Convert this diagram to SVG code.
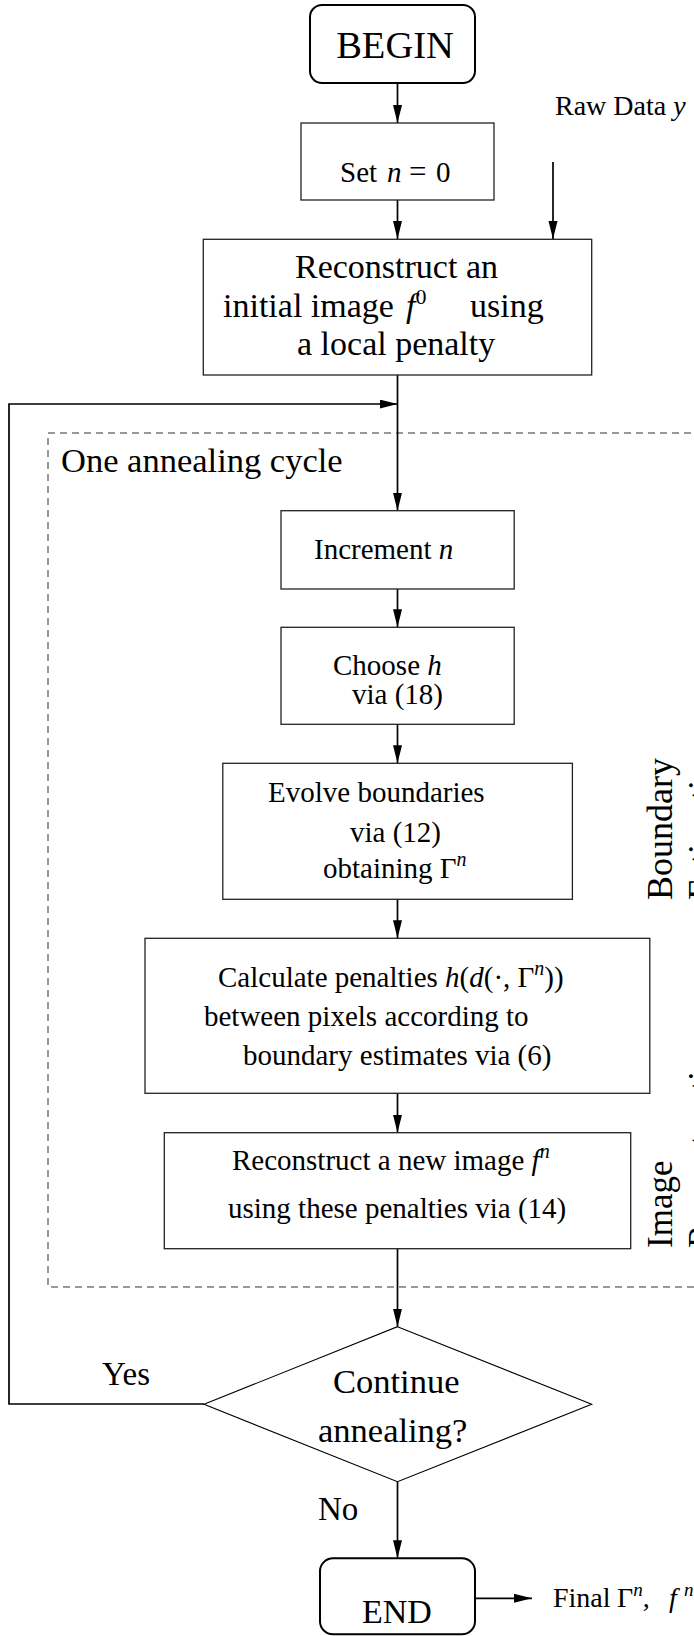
<svg xmlns="http://www.w3.org/2000/svg" width="694" height="1636" viewBox="0 0 694 1636">
<defs>
<marker id="ah" markerUnits="userSpaceOnUse" markerWidth="18" markerHeight="10" refX="18" refY="4.5" orient="auto"><path d="M0,0 L18,4.5 L0,9 z" fill="#000"/></marker>
<style>
.box{fill:#fff;stroke:#222;stroke-width:1.3}
.rbox{fill:#fff;stroke:#000;stroke-width:2}
.c{fill:none;stroke:#000;stroke-width:1.7}
.t{font-family:"Liberation Serif","Times New Roman",serif;fill:#000}
.i{font-style:italic}
.m{font-size:29px}
</style>
</defs>
<rect width="694" height="1636" fill="#fff"/>
<rect x="48" y="433" width="700" height="854" fill="none" stroke="#333" stroke-width="1" stroke-dasharray="7 5"/>
<text class="t" x="61" y="472" font-size="34.5">One annealing cycle</text>
<g id="connectors">
<path class="c" d="M397.5,83 V123" marker-end="url(#ah)"/>
<path class="c" d="M397.5,200 V239" marker-end="url(#ah)"/>
<path class="c" d="M553,162 V239" marker-end="url(#ah)"/>
<path class="c" d="M397.5,375 V510.7" marker-end="url(#ah)"/>
<path class="c" d="M204,1404 H9 V404 H397.5" stroke-width="2" marker-end="url(#ah)"/>
<path class="c" d="M397.5,589 V627.3" marker-end="url(#ah)"/>
<path class="c" d="M397.5,724.3 V763.3" marker-end="url(#ah)"/>
<path class="c" d="M397.5,899.3 V938.3" marker-end="url(#ah)"/>
<path class="c" d="M397.5,1093.3 V1132.7" marker-end="url(#ah)"/>
<path class="c" d="M397.5,1248.7 V1326.7" marker-end="url(#ah)"/>
<path class="c" d="M397.5,1481.7 V1558.3" marker-end="url(#ah)"/>
<path class="c" d="M475,1598.3 H532" marker-end="url(#ah)"/>
</g>
<g id="begin">
<rect class="rbox" x="310" y="5" width="165" height="78" rx="12"/>
<text class="t" x="395" y="58" font-size="38.5" text-anchor="middle">BEGIN</text>
</g>
<g id="rawdata">
<text class="t" x="555" y="115" font-size="28">Raw Data <tspan class="i">y</tspan></text>
</g>
<g id="setn">
<rect class="box" x="301" y="123" width="193" height="77"/>
<text class="t m" x="340" y="182">Set<tspan class="i" x="387">n</tspan><tspan x="409" font-size="31">=</tspan><tspan x="436">0</tspan></text>
</g>
<g id="init">
<rect class="box" x="203.3" y="239.3" width="388.4" height="135.7"/>
<text class="t" x="295" y="278" font-size="34">Reconstruct an</text>
<text class="t" x="223" y="317" font-size="34">initial image</text>
<text class="t" x="406" y="317" font-size="34"><tspan class="i">f</tspan><tspan font-size="22" dy="-13">0</tspan></text>
<text class="t" x="470" y="317" font-size="34">using</text>
<text class="t" x="297" y="355" font-size="34">a local penalty</text>
</g>
<g id="increment">
<rect class="box" x="281" y="510.7" width="233.2" height="78.3"/>
<text class="t m" x="314" y="559.3">Increment <tspan class="i">n</tspan></text>
</g>
<g id="choose">
<rect class="box" x="281" y="627.3" width="233.2" height="97"/>
<text class="t m" x="333" y="674.5">Choose <tspan class="i">h</tspan></text>
<text class="t m" x="352" y="704">via (18)</text>
</g>
<g id="evolve">
<rect class="box" x="222.8" y="763.3" width="349.6" height="136"/>
<text class="t m" x="268" y="801.7">Evolve boundaries</text>
<text class="t m" x="350" y="841.7">via (12)</text>
<text class="t m" x="323" y="877.7">obtaining Γ<tspan font-size="20" dy="-12" class="i">n</tspan></text>
</g>
<g id="calculate">
<rect class="box" x="145" y="938.3" width="504.8" height="155"/>
<text class="t m" x="218" y="986.7">Calculate penalties <tspan class="i">h</tspan>(<tspan class="i">d</tspan>(·, Γ<tspan font-size="20" dy="-12" class="i">n</tspan><tspan dy="12">))</tspan></text>
<text class="t m" x="204" y="1026">between pixels according to</text>
<text class="t m" x="243" y="1065">boundary estimates via (6)</text>
</g>
<g id="reconstruct">
<rect class="box" x="164.3" y="1132.7" width="466.4" height="116"/>
<text class="t m" x="232" y="1170">Reconstruct a new image <tspan class="i">f</tspan><tspan font-size="20" dy="-12" class="i">n</tspan></text>
<text class="t m" x="228" y="1218.3">using these penalties via (14)</text>
</g>
<g id="labels-side">
<text class="t" font-size="36" transform="translate(672,900) rotate(-90)">Boundary</text>
<text class="t" font-size="36" transform="translate(713,900) rotate(-90)">Estimation</text>
<text class="t" font-size="35" transform="translate(672,1248) rotate(-90)">Image</text>
<text class="t" font-size="35" transform="translate(713,1248) rotate(-90)">Reconstruction</text>
</g>
<g id="decision">
<polygon points="397.5,1326.7 591.7,1404.3 397.5,1481.7 204,1404.3" fill="#fff" stroke="#000" stroke-width="1.1"/>
<text class="t" x="333" y="1393.3" font-size="34.5">Continue</text>
<text class="t" x="318" y="1441.7" font-size="34.5">annealing?</text>
</g>
<g id="edge-labels">
<text class="t" x="102" y="1385" font-size="33">Yes</text>
<text class="t" x="318" y="1520" font-size="33">No</text>
</g>
<g id="end">
<rect class="rbox" x="320" y="1558.3" width="155" height="76" rx="13"/>
<text class="t" x="397" y="1623" font-size="34" text-anchor="middle">END</text>
</g>
<g id="final">
<text class="t" x="553" y="1606.7" font-size="28">Final<tspan x="617">Γ</tspan><tspan font-size="19" dy="-11" class="i">n</tspan><tspan dy="11">,</tspan><tspan class="i" x="669">f</tspan><tspan font-size="19" dy="-11" class="i" x="684">n</tspan></text>
</g>
</svg>
